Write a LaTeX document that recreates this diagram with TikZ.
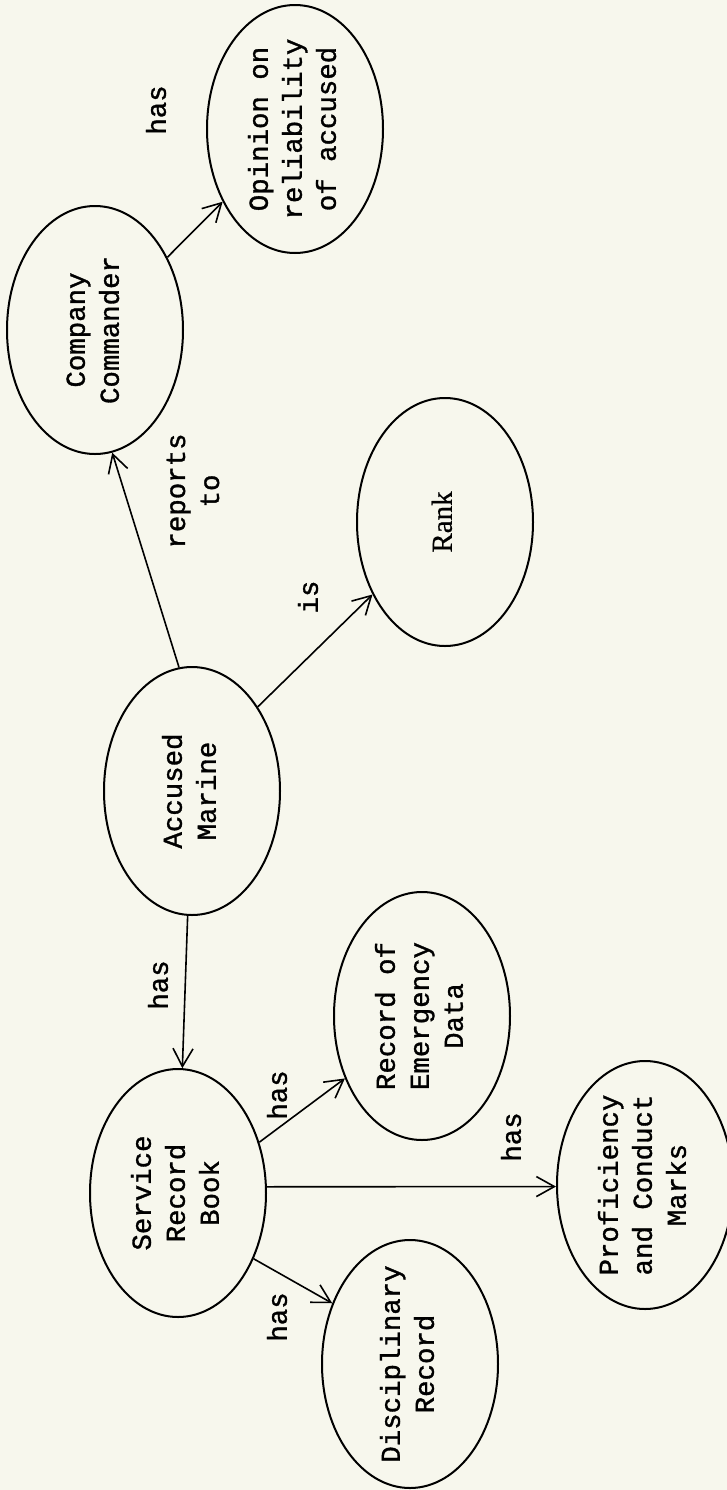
\documentclass[tikz,border=0pt]{standalone}
\usepackage{fontspec}
\setmainfont{Liberation Mono}[FakeBold=1.2]
\newfontfamily\rankfont{Liberation Serif}[FakeBold=0.6]
\usetikzlibrary{shapes.geometric,arrows.meta}
\definecolor{paper}{RGB}{247,247,237}
\newcommand{\etext}[1]{\makebox[0pt]{\begin{tabular}{@{}c@{}}#1\end{tabular}}}

\begin{document}
\begin{tikzpicture}[x=0.5pt, y=-0.5pt, line width=0.8pt,
    font=\fontsize{13.7}{17}\selectfont,
    >={Straight Barb[length=9pt,width=10pt]},
    ent/.style={draw, ellipse, rotate=90, line width=1pt, inner sep=0pt,
      minimum width=124pt, minimum height=88pt},
    rel/.style={rotate=90, inner sep=0pt}]
      \useasboundingbox (0,0) rectangle (727,1490);
      \fill[paper] (0,0) rectangle (727,1490);

      \node[ent] (CC) at (95,330) {\etext{Company\\Commander}};
      \node[ent] (OP) at (295,129) {\etext{Opinion on\\reliability\\of accused}};
      \node[ent] (RK) at (445,522) {\etext{\rankfont\fontsize{14.5}{17}\selectfont Rank}};
      \node[ent] (AM) at (192,791) {\etext{Accused\\Marine}};
      \node[ent] (SRB) at (178,1193) {\etext{Service\\Record\\Book}};
      \node[ent] (RED) at (422,1016) {\etext{Record of\\Emergency\\Data}};
      \node[ent] (PCM) at (645,1185) {\etext{Proficiency\\and Conduct\\Marks}};
      \node[ent] (DR) at (410,1364) {\etext{Disciplinary\\Record}};

      \draw[->] (CC) -- (OP) node[rel] at (156,110) {has};
      \draw[->] (AM.6) -- (CC.188) node[rel, align=center] at (193,491) {reports\\to};
      \draw[->] (AM.322) -- (RK.135) node[rel] at (308,597) {is};
      \draw[->] (AM) -- (SRB) node[rel] at (158,985) {has};
      \draw[->] (SRB.302) -- (RED.129) node[rel] at (277,1095) {has};
      \draw[->] (SRB.-86) -- (PCM.91) node[rel] at (511,1137) {has};
      \draw[->] (SRB.229) -- (DR.52) node[rel] at (277,1317) {has};
    \end{tikzpicture}
\end{document}
